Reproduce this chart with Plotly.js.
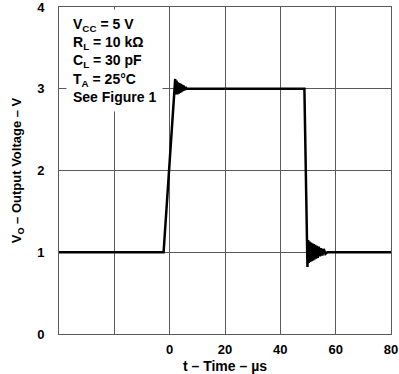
<!DOCTYPE html>
<html>
<head>
<meta charset="utf-8">
<script src="https://cdn.plot.ly/plotly-3.0.1.min.js"></script>
<style>html,body{margin:0;padding:0;background:#fff;}#chart{width:399px;height:374px;}</style>
</head>
<body>
<div id="chart"></div>
<script>
// Time (µs) and output voltage (V)
const timeUs = [-40, -2.2, 2.0, 2.25, 2.5, 2.75, 3.0, 3.25, 3.5, 3.75, 4.0, 4.25, 4.5, 4.75, 5.0, 5.3, 5.7, 6.2, 48.7, 49.3, 49.8, 50.05, 50.3, 50.55, 50.8, 51.05, 51.3, 51.55, 51.8, 52.05, 52.3, 52.6, 52.9, 53.2, 53.5, 53.9, 54.3, 54.7, 55.2, 55.7, 56.3, 57.0, 80];
const voltage = [1.0, 1.0, 3.12, 2.93, 3.1, 2.93, 3.08, 2.94, 3.07, 2.95, 3.06, 2.96, 3.05, 2.97, 3.04, 2.98, 3.02, 3.0, 3.0, 1.6, 0.82, 1.15, 0.87, 1.13, 0.88, 1.12, 0.89, 1.11, 0.9, 1.1, 0.91, 1.09, 0.92, 1.08, 0.93, 1.07, 0.95, 1.05, 0.96, 1.04, 0.98, 1.0, 1.0];
const xTickVals = [-40, -20, 0, 20, 40, 60, 80];
const xTickText = ['', '', '0', '20', '40', '60', '80'];
const yTickVals = [0, 1, 2, 3, 4];
const conditions = ['V<sub>CC</sub> = 5 V', 'R<sub>L</sub> = 10 kΩ', 'C<sub>L</sub> = 30 pF', 'T<sub>A</sub> = 25°C', 'See Figure 1'];

const fontFam = 'Arial, "Liberation Sans", sans-serif';
const trace = {
  x: timeUs, y: voltage, type: 'scatter', mode: 'lines',
  line: {color: '#000', width: 2.5}, hoverinfo: 'skip'
};
const layout = {
  width: 399, height: 374,
  margin: {l: 59, r: 8, t: 7, b: 40},
  paper_bgcolor: '#fff', plot_bgcolor: '#fff',
  showlegend: false,
  xaxis: {
    range: [-40, 80], tickvals: xTickVals, ticktext: xTickText,
    showgrid: true, gridcolor: '#5a5a5a', gridwidth: 1, zeroline: false,
    showline: true, mirror: true, linecolor: '#5a5a5a', linewidth: 1,
    ticks: '', ticklabelstandoff: 3, ticklabeloverflow: 'allow',
    tickfont: {family: fontFam, size: 13, color: '#000', weight: 'bold'},
    title: {text: 't – Time – µs', font: {family: fontFam, size: 14, color: '#000', weight: 'bold'}, standoff: 6}
  },
  yaxis: {
    range: [0, 4], tickvals: yTickVals,
    showgrid: true, gridcolor: '#5a5a5a', gridwidth: 1, zeroline: false,
    showline: true, mirror: true, linecolor: '#5a5a5a', linewidth: 1,
    ticks: '', ticklabelstandoff: 11, ticklabeloverflow: 'allow',
    tickfont: {family: fontFam, size: 13, color: '#000', weight: 'bold'},
    title: {text: 'V<sub>O</sub> – Output Voltage – V', font: {family: fontFam, size: 13, color: '#000', weight: 'bold'}, standoff: 12}
  },
  annotations: [{
    xref: 'paper', yref: 'paper', x: 0.02, y: 0.995, xanchor: 'left', yanchor: 'top',
    text: conditions.join('<br>'), align: 'left', showarrow: false,
    bgcolor: '#fff', borderpad: 6,
    font: {family: fontFam, size: 14, color: '#000', weight: 'bold'}
  }]
};
Plotly.newPlot('chart', [trace], layout, {displayModeBar: false, staticPlot: true});
</script>
</body>
</html>
